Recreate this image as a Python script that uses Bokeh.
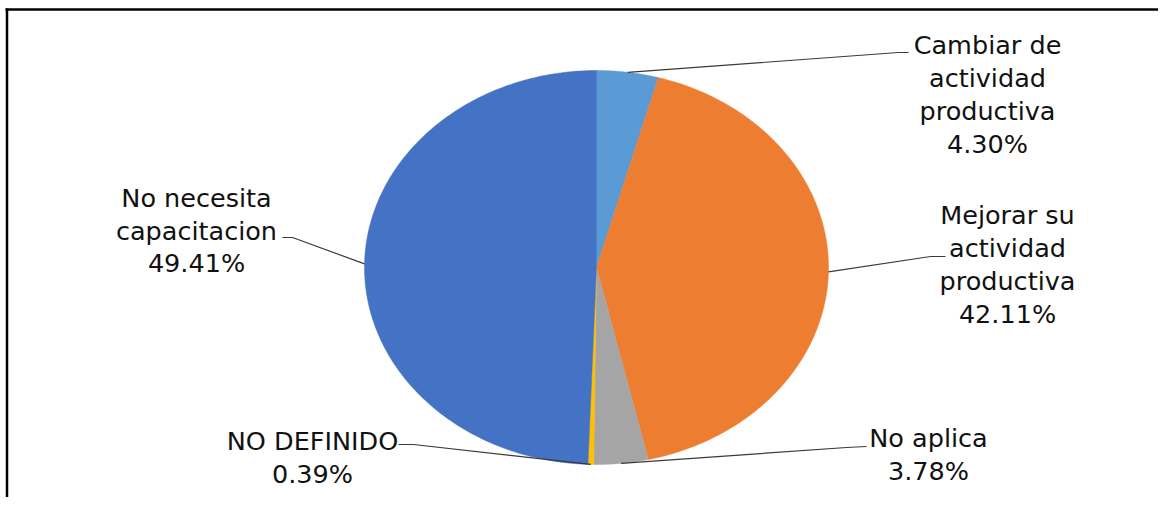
import numpy as np
from bokeh.plotting import figure
from bokeh.models import Range1d
from bokeh.core.properties import value
from bokeh.embed import file_html
from bokeh.resources import INLINE

# ---- data ----
categories = ["Cambiar de\nactividad\nproductiva",
              "Mejorar su\nactividad\nproductiva",
              "No aplica",
              "NO DEFINIDO",
              "No necesita\ncapacitacion"]
percentages = [4.30, 42.11, 3.78, 0.39, 49.41]
colors = ["#5B9BD5", "#ED7D31", "#A5A5A5", "#FFC000", "#4472C4"]

# ---- layout (pixel space of the picture) ----
CX, CY, RX, RY = 596, 267, 232, 197
label_centers = [(987, 94), (1007, 264), (928, 454), (312, 457), (196, 230)]
leader_bends = [[(898, 52), (908, 52)],
                [(930, 256), (945, 256)],
                [(846, 447), (866, 446)],
                [(413, 444), (398, 444)],
                [(292, 237), (282, 237)]]
LINE_SP = 32.7

p = figure(width=1158, height=497, output_backend="svg", toolbar_location=None,
           x_range=Range1d(0, 1158), y_range=Range1d(497, 0),
           min_border=0, outline_line_color=None)
p.xaxis.visible = False
p.yaxis.visible = False
p.grid.visible = False
p.background_fill_color = "white"
p.border_fill_color = "white"

total = sum(percentages)
fr = np.cumsum([0] + [v / total for v in percentages])

xs, ys = [], []
for i in range(len(percentages)):
    t = np.linspace(fr[i] * 2 * np.pi, fr[i + 1] * 2 * np.pi, 200)
    x = np.concatenate([[CX], CX + RX * np.sin(t)])
    y = np.concatenate([[CY], CY - RY * np.cos(t)])
    xs.append(list(x))
    ys.append(list(y))
p.patches(xs=xs, ys=ys, fill_color=colors, line_color=colors, line_width=0.5)

# leader lines
lx, ly = [], []
for i in range(len(percentages)):
    mid = (fr[i] + fr[i + 1]) / 2 * 2 * np.pi
    sx, sy = CX + RX * np.sin(mid), CY - RY * np.cos(mid)
    lx.append([sx] + [b[0] for b in leader_bends[i]])
    ly.append([sy] + [b[1] for b in leader_bends[i]])
p.multi_line(xs=lx, ys=ly, line_color="#3a3a3a", line_width=1.2)

# labels
tx, ty, tt = [], [], []
for i, (name, v) in enumerate(zip(categories, percentages)):
    lines = name.split("\n") + [f"{v:.2f}%"]
    n = len(lines)
    cx, cy = label_centers[i]
    for j, s in enumerate(lines):
        tx.append(cx)
        ty.append(cy + (j - (n - 1) / 2) * LINE_SP)
        tt.append(s)
p.text(x=tx, y=ty, text=tt, text_align="center", text_baseline="middle",
       text_font=value("DejaVu Sans"), text_font_size="25.5px", text_color="#111111")

# frame
p.multi_line(xs=[[5, 1158], [6.5, 6.5]], ys=[[9, 9], [8, 497]], line_color="black", line_width=2.5)

open("out.html", "w").write(file_html(p, INLINE))
